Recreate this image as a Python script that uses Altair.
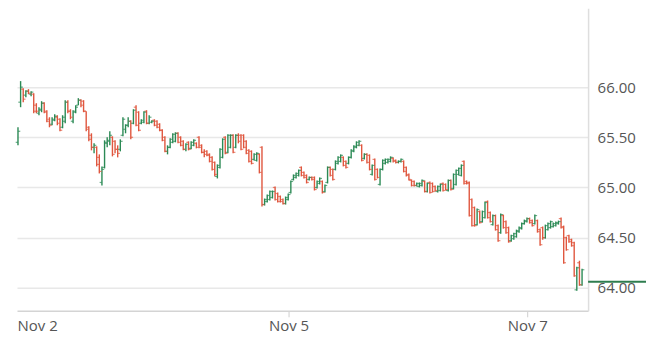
import altair as alt
import pandas as pd

opens = [65.45, 65.85, 65.98, 65.92, 65.96, 65.93, 65.93, 65.82, 65.74, 65.77, 65.84, 65.76, 65.68, 65.63, 65.67, 65.70, 65.68, 65.60, 65.66, 65.85, 65.76, 65.66, 65.76, 65.82, 65.87, 65.86, 65.76, 65.60, 65.52, 65.40, 65.40, 65.30, 65.05, 65.20, 65.44, 65.46, 65.50, 65.46, 65.38, 65.38, 65.52, 65.58, 65.62, 65.66,
         65.64, 65.80, 65.75, 65.64, 65.65, 65.76, 65.64, 65.65, 65.67, 65.66, 65.63, 65.57, 65.50, 65.36, 65.40, 65.45, 65.46, 65.54, 65.50, 65.46, 65.38, 65.45, 65.39, 65.42, 65.44, 65.50, 65.42, 65.35, 65.36, 65.33, 65.30, 65.25, 65.11, 65.20, 65.30, 65.50, 65.35, 65.40, 65.52, 65.40, 65.52, 65.52, 65.52, 65.46,
         65.37, 65.36, 65.28, 65.27, 65.33, 65.40, 64.83, 64.86, 64.88, 64.90, 65.00, 64.94, 64.91, 64.88, 64.84, 64.88, 64.95, 65.08, 65.10, 65.12, 65.20, 65.15, 65.12, 65.08, 65.10, 65.10, 65.00, 65.04, 65.06, 64.96, 65.05, 65.20, 65.18, 65.18, 65.24, 65.26, 65.30, 65.26, 65.24, 65.30, 65.36, 65.40, 65.42,
         65.42, 65.29, 65.33, 65.32, 65.13, 65.28, 65.18, 65.03, 65.18, 65.24, 65.25, 65.26, 65.29, 65.27, 65.25, 65.26, 65.26, 65.20, 65.13, 65.07, 65.06, 65.02, 65.01, 65.02, 65.06, 64.96, 65.05, 65.04, 65.01, 64.96, 64.97, 65.04, 65.03, 64.97, 65.07, 64.99, 65.03, 65.13, 65.12, 65.26, 65.06, 65.05, 64.88, 64.80,
         64.63, 64.76, 64.66, 64.70, 64.86, 64.75, 64.63, 64.72, 64.62, 64.55, 64.72, 64.66, 64.60, 64.47, 64.49, 64.51, 64.56, 64.59, 64.64, 64.66, 64.69, 64.67, 64.64, 64.67, 64.58, 64.60, 64.50, 64.58, 64.60, 64.61, 64.62, 64.64, 64.69, 64.61, 64.50, 64.52, 64.48, 64.45, 63.98, 64.25, 64.03]
highs = [65.60, 66.06, 65.99, 65.97, 65.98, 65.96, 65.94, 65.84, 65.80, 65.86, 65.85, 65.77, 65.70, 65.70, 65.73, 65.72, 65.69, 65.72, 65.87, 65.87, 65.78, 65.77, 65.82, 65.89, 65.88, 65.87, 65.76, 65.61, 65.54, 65.44, 65.41, 65.33, 65.21, 65.47, 65.50, 65.56, 65.51, 65.47, 65.42, 65.48, 65.70, 65.63, 65.70, 65.67,
         65.78, 65.82, 65.76, 65.68, 65.76, 65.77, 65.72, 65.67, 65.68, 65.67, 65.64, 65.58, 65.51, 65.42, 65.49, 65.54, 65.55, 65.55, 65.51, 65.47, 65.44, 65.46, 65.46, 65.48, 65.45, 65.51, 65.43, 65.38, 65.37, 65.34, 65.31, 65.26, 65.23, 65.39, 65.49, 65.51, 65.53, 65.53, 65.53, 65.53, 65.54, 65.53, 65.53, 65.47,
         65.38, 65.37, 65.34, 65.35, 65.34, 65.41, 64.89, 64.93, 64.97, 64.97, 65.01, 64.95, 64.92, 64.89, 64.91, 64.94, 65.07, 65.13, 65.15, 65.18, 65.21, 65.16, 65.13, 65.11, 65.11, 65.11, 65.07, 65.10, 65.07, 65.03, 65.21, 65.21, 65.19, 65.27, 65.31, 65.33, 65.31, 65.27, 65.31, 65.38, 65.42, 65.46, 65.47,
         65.43, 65.34, 65.34, 65.33, 65.23, 65.29, 65.19, 65.19, 65.28, 65.29, 65.29, 65.31, 65.30, 65.28, 65.27, 65.29, 65.27, 65.21, 65.14, 65.08, 65.07, 65.05, 65.05, 65.08, 65.07, 65.05, 65.06, 65.05, 65.02, 65.02, 65.04, 65.05, 65.04, 65.08, 65.08, 65.14, 65.18, 65.20, 65.23, 65.27, 65.07, 65.06, 64.89, 64.81,
         64.79, 64.77, 64.77, 64.86, 64.87, 64.76, 64.73, 64.73, 64.63, 64.74, 64.73, 64.67, 64.61, 64.53, 64.55, 64.58, 64.61, 64.65, 64.68, 64.70, 64.70, 64.68, 64.73, 64.68, 64.59, 64.61, 64.63, 64.65, 64.67, 64.65, 64.66, 64.67, 64.70, 64.62, 64.51, 64.53, 64.49, 64.46, 64.21, 64.27, 64.19]
lows = [65.42, 65.80, 65.85, 65.90, 65.93, 65.91, 65.74, 65.74, 65.72, 65.75, 65.74, 65.65, 65.60, 65.62, 65.66, 65.62, 65.56, 65.59, 65.64, 65.74, 65.68, 65.64, 65.74, 65.82, 65.80, 65.75, 65.56, 65.46, 65.37, 65.34, 65.21, 65.14, 65.02, 65.19, 65.40, 65.42, 65.31, 65.34, 65.30, 65.36, 65.51, 65.54, 65.60, 65.48,
        65.63, 65.61, 65.56, 65.63, 65.64, 65.63, 65.63, 65.64, 65.61, 65.59, 65.56, 65.46, 65.35, 65.33, 65.39, 65.44, 65.45, 65.44, 65.41, 65.37, 65.36, 65.37, 65.38, 65.41, 65.39, 65.39, 65.34, 65.30, 65.31, 65.25, 65.17, 65.11, 65.09, 65.19, 65.29, 65.33, 65.34, 65.39, 65.34, 65.39, 65.44, 65.37, 65.39, 65.33,
        65.25, 65.23, 65.27, 65.26, 65.14, 64.81, 64.82, 64.85, 64.87, 64.89, 64.87, 64.85, 64.85, 64.83, 64.83, 64.87, 64.94, 65.07, 65.09, 65.11, 65.11, 65.09, 65.04, 65.07, 65.07, 64.97, 64.99, 65.03, 64.94, 64.95, 65.04, 65.11, 65.07, 65.17, 65.23, 65.25, 65.21, 65.19, 65.23, 65.29, 65.35, 65.39, 65.41,
        65.26, 65.28, 65.24, 65.17, 65.12, 65.07, 65.09, 65.02, 65.17, 65.23, 65.24, 65.25, 65.25, 65.24, 65.24, 65.25, 65.15, 65.11, 65.07, 65.01, 65.01, 65.01, 65.00, 65.01, 64.95, 64.95, 64.94, 64.95, 64.96, 64.95, 64.96, 64.96, 64.97, 64.96, 64.97, 64.98, 65.02, 65.12, 65.11, 65.03, 65.03, 64.71, 64.61, 64.61,
        64.62, 64.64, 64.65, 64.69, 64.69, 64.65, 64.62, 64.57, 64.46, 64.54, 64.59, 64.54, 64.45, 64.46, 64.48, 64.50, 64.55, 64.58, 64.63, 64.65, 64.64, 64.61, 64.63, 64.55, 64.42, 64.48, 64.49, 64.57, 64.59, 64.60, 64.61, 64.63, 64.59, 64.24, 64.37, 64.45, 64.41, 64.11, 63.97, 64.02, 64.02]
closes = [65.56, 66.00, 65.88, 65.96, 65.94, 65.95, 65.76, 65.76, 65.78, 65.84, 65.75, 65.66, 65.62, 65.68, 65.71, 65.64, 65.57, 65.70, 65.85, 65.76, 65.70, 65.75, 65.80, 65.87, 65.82, 65.76, 65.58, 65.48, 65.40, 65.42, 65.23, 65.16, 65.18, 65.45, 65.47, 65.52, 65.33, 65.38, 65.34, 65.46, 65.68, 65.62, 65.66, 65.50,
          65.77, 65.62, 65.57, 65.67, 65.75, 65.64, 65.70, 65.66, 65.62, 65.60, 65.57, 65.47, 65.36, 65.40, 65.48, 65.53, 65.54, 65.45, 65.42, 65.38, 65.43, 65.38, 65.45, 65.47, 65.40, 65.40, 65.35, 65.33, 65.32, 65.26, 65.18, 65.13, 65.22, 65.38, 65.48, 65.34, 65.52, 65.52, 65.35, 65.52, 65.46, 65.38, 65.40, 65.34,
          65.26, 65.24, 65.33, 65.34, 65.15, 64.83, 64.88, 64.92, 64.96, 64.96, 64.88, 64.86, 64.86, 64.84, 64.90, 64.93, 65.06, 65.12, 65.14, 65.17, 65.12, 65.10, 65.05, 65.10, 65.08, 64.98, 65.06, 65.09, 64.95, 65.02, 65.20, 65.12, 65.08, 65.26, 65.30, 65.32, 65.22, 65.20, 65.30, 65.37, 65.41, 65.45, 65.46,
          65.27, 65.33, 65.25, 65.18, 65.22, 65.08, 65.10, 65.18, 65.27, 65.28, 65.28, 65.30, 65.26, 65.25, 65.26, 65.28, 65.16, 65.12, 65.08, 65.02, 65.02, 65.04, 65.04, 65.07, 64.96, 65.04, 64.95, 64.96, 64.97, 65.01, 65.03, 64.97, 64.98, 65.07, 64.98, 65.13, 65.17, 65.19, 65.22, 65.04, 65.04, 64.72, 64.62, 64.62,
          64.78, 64.65, 64.76, 64.85, 64.70, 64.66, 64.72, 64.58, 64.47, 64.73, 64.60, 64.55, 64.46, 64.52, 64.54, 64.57, 64.60, 64.64, 64.67, 64.69, 64.65, 64.62, 64.72, 64.56, 64.43, 64.50, 64.62, 64.64, 64.66, 64.64, 64.65, 64.66, 64.60, 64.25, 64.38, 64.46, 64.42, 64.12, 64.20, 64.03, 64.18]

x_tick_positions = [-0.38, 103.1, 194.1]
x_tick_labels = ["Nov 2", "Nov 5", "Nov 7"]
x_domain = [-0.38, 217.3]
y_ticks = [64.0, 64.5, 65.0, 65.5, 66.0]
y_domain = [63.771, 66.786]
last_price = 64.06

UP = "#2b8a55"
DOWN = "#e0573f"
FONT = "Open Sans"

df = pd.DataFrame({"i": list(range(len(opens))), "open": opens, "high": highs,
                   "low": lows, "close": closes})
df["dir"] = ["up" if c >= o else "down" for o, c in zip(opens, closes)]

label_expr = " : ".join(
    [f"abs(datum.value - ({p})) < 1 ? '{l}'" for p, l in zip(x_tick_positions, x_tick_labels)]
) + " : ''"

x_enc = alt.X("i:Q", scale=alt.Scale(domain=x_domain, nice=False, zero=False),
              axis=alt.Axis(values=x_tick_positions, labelExpr=label_expr, title=None,
                            grid=False, domainColor="#d4d4d4", domainWidth=1.5,
                            tickColor="#cfcfcf", tickSize=6, tickWidth=1,
                            tickOpacity={"condition": {"test": "datum.value < 1", "value": 0}, "value": 1},
                            labelFlush=True, labelPadding=2, labelFont=FONT,
                            labelFontSize=15, labelColor="#555555"))
y_scale = alt.Scale(domain=y_domain, nice=False, zero=False)
color = alt.Color("dir:N", scale=alt.Scale(domain=["up", "down"], range=[UP, DOWN]), legend=None)

base = alt.Chart(df)
wicks = base.mark_rule(strokeWidth=1.4).encode(
    x=x_enc,
    y=alt.Y("low:Q", scale=y_scale,
            axis=alt.Axis(orient="right", values=y_ticks, format=".2f", title=None,
                          grid=True, gridColor="#e8e8e8", gridWidth=1.5, ticks=False,
                          domainColor="#dedede", domainWidth=1.5, labelPadding=9,
                          labelFont=FONT, labelFontSize=15, labelColor="#555555")),
    y2="high:Q",
    color=color,
)
open_ticks = base.mark_tick(orient="horizontal", size=2.2, thickness=1.2, xOffset=-1.2).encode(
    x="i:Q", y=alt.Y("open:Q", scale=y_scale), color=color)
close_ticks = base.mark_tick(orient="horizontal", size=2.2, thickness=1.2, xOffset=1.2).encode(
    x="i:Q", y=alt.Y("close:Q", scale=y_scale), color=color)

last_line = alt.Chart(pd.DataFrame({"p": [last_price]})).mark_rule(
    color="#2e7d4f", strokeWidth=2, clip=False).encode(
    y=alt.Y("p:Q", scale=y_scale), x=alt.value(572), x2=alt.value(630))

chart = alt.layer(wicks, open_ticks, close_ticks, last_line).properties(
    width=572, height=303,
    autosize=alt.AutoSizeParams(type="none"),
    padding={"left": 9, "top": 0, "right": 60, "bottom": 40},
).configure_view(stroke=None)

chart.save("out.html", embed_options={"renderer": "svg", "actions": False})
